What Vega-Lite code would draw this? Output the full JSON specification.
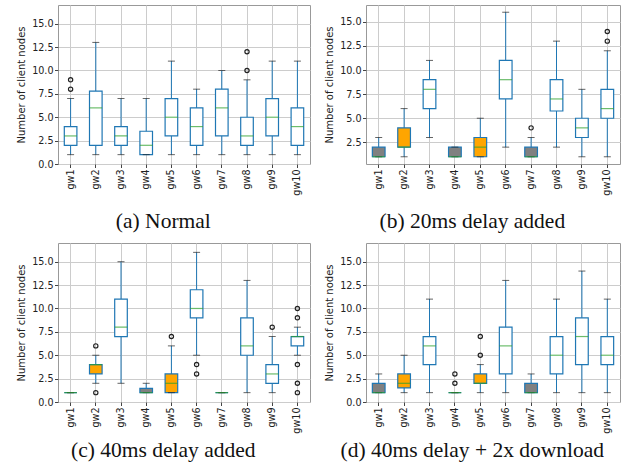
{
  "$schema": "https://vega.github.io/schema/vega-lite/v6.json",
  "padding": {"left": 16, "top": 4, "right": 0, "bottom": 0},
  "background": "white",
  "config": {
    "view": {"stroke": "#999999", "strokeWidth": 1},
    "axis": {
      "labelFont": "DejaVu Sans", "titleFont": "DejaVu Sans",
      "labelFontSize": 9.6, "titleFontSize": 10, "titleFontWeight": "normal",
      "labelColor": "#222222", "titleColor": "#222222",
      "grid": true, "gridColor": "#cccccc", "gridWidth": 1,
      "domain": false, "tickColor": "#444444", "tickSize": 3.5, "labelPadding": 1.5,
      "labelOverlap": false, "titlePadding": 5
    },
    "title": {"font": "Liberation Serif", "fontSize": 21.5, "fontWeight": "normal", "color": "#111111", "frame": "bounds", "anchor": "middle"}
  },
  "datasets": {
    "stats": [
      {"panel": "a", "gw": "gw1", "low": 1, "q1": 2, "med": 3, "q3": 4, "high": 7, "group": "normal"},
      {"panel": "a", "gw": "gw2", "low": 1, "q1": 2, "med": 6, "q3": 7.8, "high": 13, "group": "normal"},
      {"panel": "a", "gw": "gw3", "low": 1, "q1": 2, "med": 3, "q3": 4, "high": 7, "group": "normal"},
      {"panel": "a", "gw": "gw4", "low": 1, "q1": 1, "med": 2, "q3": 3.5, "high": 7, "group": "normal"},
      {"panel": "a", "gw": "gw5", "low": 1, "q1": 3, "med": 5, "q3": 7, "high": 11, "group": "normal"},
      {"panel": "a", "gw": "gw6", "low": 1, "q1": 2, "med": 4, "q3": 6, "high": 8, "group": "normal"},
      {"panel": "a", "gw": "gw7", "low": 1, "q1": 3, "med": 6, "q3": 8, "high": 10, "group": "normal"},
      {"panel": "a", "gw": "gw8", "low": 1, "q1": 2, "med": 3, "q3": 5, "high": 9, "group": "normal"},
      {"panel": "a", "gw": "gw9", "low": 1, "q1": 3, "med": 5, "q3": 7, "high": 11, "group": "normal"},
      {"panel": "a", "gw": "gw10", "low": 1, "q1": 2, "med": 4, "q3": 6, "high": 11, "group": "normal"},

      {"panel": "b", "gw": "gw1", "low": 1, "q1": 1, "med": 1, "q3": 2, "high": 3, "group": "idle"},
      {"panel": "b", "gw": "gw2", "low": 1, "q1": 2, "med": 2, "q3": 4, "high": 6, "group": "warn"},
      {"panel": "b", "gw": "gw3", "low": 3, "q1": 6, "med": 8, "q3": 9, "high": 11, "group": "normal"},
      {"panel": "b", "gw": "gw4", "low": 1, "q1": 1, "med": 1, "q3": 2, "high": 2, "group": "idle"},
      {"panel": "b", "gw": "gw5", "low": 1, "q1": 1, "med": 2, "q3": 3, "high": 5, "group": "warn"},
      {"panel": "b", "gw": "gw6", "low": 2, "q1": 7, "med": 9, "q3": 11, "high": 16, "group": "normal"},
      {"panel": "b", "gw": "gw7", "low": 1, "q1": 1, "med": 1, "q3": 2, "high": 3, "group": "idle"},
      {"panel": "b", "gw": "gw8", "low": 2, "q1": 5.75, "med": 7, "q3": 9, "high": 13, "group": "normal"},
      {"panel": "b", "gw": "gw9", "low": 1, "q1": 3, "med": 4, "q3": 5, "high": 8, "group": "normal"},
      {"panel": "b", "gw": "gw10", "low": 1, "q1": 5, "med": 6, "q3": 8, "high": 12, "group": "normal"},

      {"panel": "c", "gw": "gw1", "low": 1, "q1": 1, "med": 1, "q3": 1, "high": 1, "group": "normal"},
      {"panel": "c", "gw": "gw2", "low": 2, "q1": 3, "med": 4, "q3": 4, "high": 5, "group": "warn"},
      {"panel": "c", "gw": "gw3", "low": 2, "q1": 7, "med": 8, "q3": 11, "high": 15, "group": "normal"},
      {"panel": "c", "gw": "gw4", "low": 1, "q1": 1, "med": 1, "q3": 1.45, "high": 2, "group": "idle"},
      {"panel": "c", "gw": "gw5", "low": 1, "q1": 1, "med": 2, "q3": 3, "high": 6, "group": "warn"},
      {"panel": "c", "gw": "gw6", "low": 5, "q1": 9, "med": 10, "q3": 12, "high": 16, "group": "normal"},
      {"panel": "c", "gw": "gw7", "low": 1, "q1": 1, "med": 1, "q3": 1, "high": 1, "group": "normal"},
      {"panel": "c", "gw": "gw8", "low": 1, "q1": 5, "med": 6, "q3": 9, "high": 13, "group": "normal"},
      {"panel": "c", "gw": "gw9", "low": 1, "q1": 2, "med": 3, "q3": 4, "high": 7, "group": "normal"},
      {"panel": "c", "gw": "gw10", "low": 5, "q1": 6, "med": 7, "q3": 7, "high": 8, "group": "normal"},

      {"panel": "d", "gw": "gw1", "low": 1, "q1": 1, "med": 1, "q3": 2, "high": 3, "group": "idle"},
      {"panel": "d", "gw": "gw2", "low": 1, "q1": 1.5, "med": 2, "q3": 3, "high": 5, "group": "warn"},
      {"panel": "d", "gw": "gw3", "low": 1, "q1": 4, "med": 6, "q3": 7, "high": 11, "group": "normal"},
      {"panel": "d", "gw": "gw4", "low": 1, "q1": 1, "med": 1, "q3": 1, "high": 1, "group": "normal"},
      {"panel": "d", "gw": "gw5", "low": 1, "q1": 2, "med": 2, "q3": 3, "high": 4, "group": "warn"},
      {"panel": "d", "gw": "gw6", "low": 1, "q1": 3, "med": 6, "q3": 8, "high": 13, "group": "normal"},
      {"panel": "d", "gw": "gw7", "low": 1, "q1": 1, "med": 1, "q3": 2, "high": 3, "group": "idle"},
      {"panel": "d", "gw": "gw8", "low": 1, "q1": 3, "med": 5, "q3": 7, "high": 11, "group": "normal"},
      {"panel": "d", "gw": "gw9", "low": 1, "q1": 4, "med": 7, "q3": 9, "high": 14, "group": "normal"},
      {"panel": "d", "gw": "gw10", "low": 1, "q1": 4, "med": 5, "q3": 7, "high": 11, "group": "normal"}
    ],
    "outliers": [
      {"panel": "a", "gw": "gw1", "value": 8},
      {"panel": "a", "gw": "gw1", "value": 9},
      {"panel": "a", "gw": "gw8", "value": 10},
      {"panel": "a", "gw": "gw8", "value": 12},
      {"panel": "b", "gw": "gw7", "value": 4},
      {"panel": "b", "gw": "gw10", "value": 13},
      {"panel": "b", "gw": "gw10", "value": 14},
      {"panel": "c", "gw": "gw2", "value": 6},
      {"panel": "c", "gw": "gw2", "value": 1},
      {"panel": "c", "gw": "gw5", "value": 7},
      {"panel": "c", "gw": "gw6", "value": 4},
      {"panel": "c", "gw": "gw6", "value": 3},
      {"panel": "c", "gw": "gw9", "value": 8},
      {"panel": "c", "gw": "gw10", "value": 9},
      {"panel": "c", "gw": "gw10", "value": 10},
      {"panel": "c", "gw": "gw10", "value": 4},
      {"panel": "c", "gw": "gw10", "value": 2},
      {"panel": "c", "gw": "gw10", "value": 1},
      {"panel": "d", "gw": "gw4", "value": 2},
      {"panel": "d", "gw": "gw4", "value": 3},
      {"panel": "d", "gw": "gw5", "value": 5},
      {"panel": "d", "gw": "gw5", "value": 7}
    ]
  },
  "vconcat": [
    {
      "hconcat": [
        {
          "width": 252, "height": 159,
          "title": {"text": "(a) Normal", "orient": "bottom", "offset": 16},
          "encoding": {
            "x": {"field": "gw", "type": "nominal", "title": null,
                  "scale": {"domain": ["gw1","gw2","gw3","gw4","gw5","gw6","gw7","gw8","gw9","gw10"], "paddingInner": 0, "paddingOuter": 0},
                  "axis": {"labelAngle": -90, "labelOverlap": false}}
          },
          "layer": [
            {"data": {"name": "stats"}, "transform": [{"filter": "datum.panel === 'a'"}],
             "mark": {"type": "rule", "color": "#1f77b4", "strokeWidth": 1},
             "encoding": {"y": {"field": "low", "type": "quantitative", "scale": {"domain": [0, 17], "nice": false, "zero": false},
                                "axis": {"title": "Number of client nodes", "values": [0, 2.5, 5, 7.5, 10, 12.5, 15], "tickCount": 30, "format": ".1f", "labelOverlap": false}},
                          "y2": {"field": "high"}}},
            {"data": {"name": "stats"}, "transform": [{"filter": "datum.panel === 'a'"}],
             "mark": {"type": "bar", "width": {"band": 0.5}, "stroke": "#1f77b4", "strokeWidth": 1.2},
             "encoding": {"y": {"field": "q1", "type": "quantitative"}, "y2": {"field": "q3"},
                          "fill": {"field": "group", "type": "nominal", "scale": {"domain": ["normal", "warn", "idle"], "range": ["#ffffff", "#ffa500", "#808080"]}, "legend": null}}},
            {"data": {"name": "stats"}, "transform": [{"filter": "datum.panel === 'a'"}],
             "mark": {"type": "tick", "color": "#222222", "size": 7, "thickness": 1},
             "encoding": {"y": {"field": "low", "type": "quantitative"}}},
            {"data": {"name": "stats"}, "transform": [{"filter": "datum.panel === 'a'"}],
             "mark": {"type": "tick", "color": "#222222", "size": 7, "thickness": 1},
             "encoding": {"y": {"field": "high", "type": "quantitative"}}},
            {"data": {"name": "stats"}, "transform": [{"filter": "datum.panel === 'a'"}],
             "mark": {"type": "tick", "color": "#2ca02c", "size": 12.6, "thickness": 1.2},
             "encoding": {"y": {"field": "med", "type": "quantitative"}}},
            {"data": {"name": "outliers"}, "transform": [{"filter": "datum.panel === 'a'"}],
             "mark": {"type": "point", "shape": "circle", "filled": false, "color": "#222222", "size": 18, "strokeWidth": 1.2, "opacity": 1},
             "encoding": {"y": {"field": "value", "type": "quantitative"}}}
          ]
        },
        {
          "width": 254, "height": 159,
          "title": {"text": "(b) 20ms delay added", "orient": "bottom", "offset": 16},
          "encoding": {
            "x": {"field": "gw", "type": "nominal", "title": null,
                  "scale": {"domain": ["gw1","gw2","gw3","gw4","gw5","gw6","gw7","gw8","gw9","gw10"], "paddingInner": 0, "paddingOuter": 0},
                  "axis": {"labelAngle": -90, "labelOverlap": false}}
          },
          "layer": [
            {"data": {"name": "stats"}, "transform": [{"filter": "datum.panel === 'b'"}],
             "mark": {"type": "rule", "color": "#1f77b4", "strokeWidth": 1},
             "encoding": {"y": {"field": "low", "type": "quantitative", "scale": {"domain": [0.25, 16.75], "nice": false, "zero": false},
                                "axis": {"title": "Number of client nodes", "values": [2.5, 5, 7.5, 10, 12.5, 15], "tickCount": 30, "format": ".1f", "labelOverlap": false}},
                          "y2": {"field": "high"}}},
            {"data": {"name": "stats"}, "transform": [{"filter": "datum.panel === 'b'"}],
             "mark": {"type": "bar", "width": {"band": 0.5}, "stroke": "#1f77b4", "strokeWidth": 1.2},
             "encoding": {"y": {"field": "q1", "type": "quantitative"}, "y2": {"field": "q3"},
                          "fill": {"field": "group", "type": "nominal", "scale": {"domain": ["normal", "warn", "idle"], "range": ["#ffffff", "#ffa500", "#808080"]}, "legend": null}}},
            {"data": {"name": "stats"}, "transform": [{"filter": "datum.panel === 'b'"}],
             "mark": {"type": "tick", "color": "#222222", "size": 7, "thickness": 1},
             "encoding": {"y": {"field": "low", "type": "quantitative"}}},
            {"data": {"name": "stats"}, "transform": [{"filter": "datum.panel === 'b'"}],
             "mark": {"type": "tick", "color": "#222222", "size": 7, "thickness": 1},
             "encoding": {"y": {"field": "high", "type": "quantitative"}}},
            {"data": {"name": "stats"}, "transform": [{"filter": "datum.panel === 'b'"}],
             "mark": {"type": "tick", "color": "#2ca02c", "size": 12.7, "thickness": 1.2},
             "encoding": {"y": {"field": "med", "type": "quantitative"}}},
            {"data": {"name": "outliers"}, "transform": [{"filter": "datum.panel === 'b'"}],
             "mark": {"type": "point", "shape": "circle", "filled": false, "color": "#222222", "size": 18, "strokeWidth": 1.2, "opacity": 1},
             "encoding": {"y": {"field": "value", "type": "quantitative"}}}
          ]
        }
      ],
      "spacing": 13
    },
    {
      "hconcat": [
        {
          "width": 252, "height": 159,
          "title": {"text": "(c) 40ms delay added", "orient": "bottom", "offset": 7},
          "encoding": {
            "x": {"field": "gw", "type": "nominal", "title": null,
                  "scale": {"domain": ["gw1","gw2","gw3","gw4","gw5","gw6","gw7","gw8","gw9","gw10"], "paddingInner": 0, "paddingOuter": 0},
                  "axis": {"labelAngle": -90, "labelOverlap": false}}
          },
          "layer": [
            {"data": {"name": "stats"}, "transform": [{"filter": "datum.panel === 'c'"}],
             "mark": {"type": "rule", "color": "#1f77b4", "strokeWidth": 1},
             "encoding": {"y": {"field": "low", "type": "quantitative", "scale": {"domain": [0, 17], "nice": false, "zero": false},
                                "axis": {"title": "Number of client nodes", "values": [0, 2.5, 5, 7.5, 10, 12.5, 15], "tickCount": 30, "format": ".1f", "labelOverlap": false}},
                          "y2": {"field": "high"}}},
            {"data": {"name": "stats"}, "transform": [{"filter": "datum.panel === 'c'"}],
             "mark": {"type": "bar", "width": {"band": 0.5}, "stroke": "#1f77b4", "strokeWidth": 1.2},
             "encoding": {"y": {"field": "q1", "type": "quantitative"}, "y2": {"field": "q3"},
                          "fill": {"field": "group", "type": "nominal", "scale": {"domain": ["normal", "warn", "idle"], "range": ["#ffffff", "#ffa500", "#808080"]}, "legend": null}}},
            {"data": {"name": "stats"}, "transform": [{"filter": "datum.panel === 'c'"}],
             "mark": {"type": "tick", "color": "#222222", "size": 7, "thickness": 1},
             "encoding": {"y": {"field": "low", "type": "quantitative"}}},
            {"data": {"name": "stats"}, "transform": [{"filter": "datum.panel === 'c'"}],
             "mark": {"type": "tick", "color": "#222222", "size": 7, "thickness": 1},
             "encoding": {"y": {"field": "high", "type": "quantitative"}}},
            {"data": {"name": "stats"}, "transform": [{"filter": "datum.panel === 'c'"}],
             "mark": {"type": "tick", "color": "#2ca02c", "size": 12.6, "thickness": 1.2},
             "encoding": {"y": {"field": "med", "type": "quantitative"}}},
            {"data": {"name": "outliers"}, "transform": [{"filter": "datum.panel === 'c'"}],
             "mark": {"type": "point", "shape": "circle", "filled": false, "color": "#222222", "size": 18, "strokeWidth": 1.2, "opacity": 1},
             "encoding": {"y": {"field": "value", "type": "quantitative"}}}
          ]
        },
        {
          "width": 254, "height": 159,
          "title": {"text": "(d) 40ms delay + 2x download", "orient": "bottom", "offset": 7},
          "encoding": {
            "x": {"field": "gw", "type": "nominal", "title": null,
                  "scale": {"domain": ["gw1","gw2","gw3","gw4","gw5","gw6","gw7","gw8","gw9","gw10"], "paddingInner": 0, "paddingOuter": 0},
                  "axis": {"labelAngle": -90, "labelOverlap": false}}
          },
          "layer": [
            {"data": {"name": "stats"}, "transform": [{"filter": "datum.panel === 'd'"}],
             "mark": {"type": "rule", "color": "#1f77b4", "strokeWidth": 1},
             "encoding": {"y": {"field": "low", "type": "quantitative", "scale": {"domain": [0, 17], "nice": false, "zero": false},
                                "axis": {"title": "Number of client nodes", "values": [0, 2.5, 5, 7.5, 10, 12.5, 15], "tickCount": 30, "format": ".1f", "labelOverlap": false}},
                          "y2": {"field": "high"}}},
            {"data": {"name": "stats"}, "transform": [{"filter": "datum.panel === 'd'"}],
             "mark": {"type": "bar", "width": {"band": 0.5}, "stroke": "#1f77b4", "strokeWidth": 1.2},
             "encoding": {"y": {"field": "q1", "type": "quantitative"}, "y2": {"field": "q3"},
                          "fill": {"field": "group", "type": "nominal", "scale": {"domain": ["normal", "warn", "idle"], "range": ["#ffffff", "#ffa500", "#808080"]}, "legend": null}}},
            {"data": {"name": "stats"}, "transform": [{"filter": "datum.panel === 'd'"}],
             "mark": {"type": "tick", "color": "#222222", "size": 7, "thickness": 1},
             "encoding": {"y": {"field": "low", "type": "quantitative"}}},
            {"data": {"name": "stats"}, "transform": [{"filter": "datum.panel === 'd'"}],
             "mark": {"type": "tick", "color": "#222222", "size": 7, "thickness": 1},
             "encoding": {"y": {"field": "high", "type": "quantitative"}}},
            {"data": {"name": "stats"}, "transform": [{"filter": "datum.panel === 'd'"}],
             "mark": {"type": "tick", "color": "#2ca02c", "size": 12.7, "thickness": 1.2},
             "encoding": {"y": {"field": "med", "type": "quantitative"}}},
            {"data": {"name": "outliers"}, "transform": [{"filter": "datum.panel === 'd'"}],
             "mark": {"type": "point", "shape": "circle", "filled": false, "color": "#222222", "size": 18, "strokeWidth": 1.2, "opacity": 1},
             "encoding": {"y": {"field": "value", "type": "quantitative"}}}
          ]
        }
      ],
      "spacing": 13
    }
  ],
  "spacing": 8
}
